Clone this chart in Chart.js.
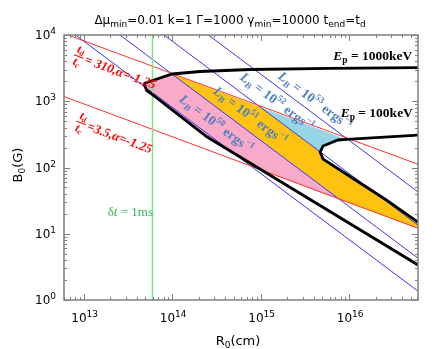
<!DOCTYPE html>
<html>
<head>
<meta charset="utf-8">
<script src="https://cdn.jsdelivr.net/npm/chart.js@4.4.0/dist/chart.umd.min.js"></script>
<style>
  html, body { margin: 0; padding: 0; background: #fff; }
</style>
</head>
<body>
<canvas id="chart" width="436" height="349"></canvas>
<script>
// axis ranges and tick labels (R0 in cm, B0 in G)
const xRange = [6e12, 6e16];
const yRange = [1, 1e4];
const xTickPowers = [13, 14, 15, 16];
const yTickPowers = [0, 1, 2, 3, 4];

// constant L_B lines, [R0, B0] end points
const lb50 = [[8.1e12, 1e4], [6e16, 1.36]];
const lb51 = [[2.57e13, 1e4], [6e16, 4.28]];
const lb52 = [[8.1e13, 1e4], [6e16, 13.5]];
const lb53 = [[2.57e14, 1e4], [6e16, 42.8]];
const lbExponents = ['50', '51', '52', '53'];

// t_d / t_c lines
const ratio310 = [[6e12, 1.05e4], [6e16, 112]];
const ratio35 = [[6e12, 1180], [6e16, 12.1]];

// delta t = 1 ms
const dt1ms = [[6e13, 1], [6e13, 1e4]];

// black boundaries
const ep1000 = [[4.78e13, 1854], [1.0e14, 2578], [2.07e14, 2812], [7.6e14, 3015], [6.08e15, 3143], [6e16, 3208]];
const lowerEdge = [[4.78e13, 1854], [5.16e13, 1453], [5.66e13, 1333], [2.49e14, 288], [6e16, 3.38]];
const ep100 = [[6e16, 309], [9.4e15, 265], [7.5e15, 260], [5.07e15, 211], [4.7e15, 171], [5.07e15, 134],
               [7.89e15, 91.7], [2.53e16, 33.5], [6e16, 15.0]];

// shaded regions, upper and lower edges
const pinkTop = [[4.78e13, 1854], [1.0e14, 2578], [7.91e15, 32.5]];
const pinkBottom = [[4.78e13, 1854], [5.16e13, 1453], [5.66e13, 1333], [2.49e14, 288], [9.3e14, 97], [7.91e15, 32.5]];
const yellowTop = [[1.0e14, 2578], [1.0e15, 813], [4.7e15, 173], [5.07e15, 134], [7.89e15, 91.7], [2.53e16, 33.5], [6e16, 15.0]];
const yellowBottom = [[1.0e14, 2578], [7.91e15, 32.5], [6e16, 12.1]];
const cyanTop = [[1.0e15, 813], [9.4e15, 265]];
const cyanBottom = [[1.0e15, 813], [4.7e15, 173], [5.07e15, 211], [7.5e15, 260], [9.4e15, 265]];

const sansFont = '"DejaVu Sans", Verdana, sans-serif';
const serifFont = '"Liberation Serif", "DejaVu Serif", serif';

function pts(arr) {
    return arr.map(p => ({ x: p[0], y: p[1] }));
}

function lineSet(arr, color, width, order) {
    return {
        data: pts(arr),
        borderColor: color,
        borderWidth: width,
        pointRadius: 0,
        fill: false,
        tension: 0,
        order: order
    };
}

function areaSet(arr, color, fillTo) {
    return {
        data: pts(arr),
        borderColor: 'rgba(0,0,0,0)',
        borderWidth: 0,
        backgroundColor: color,
        pointRadius: 0,
        fill: fillTo,
        tension: 0,
        order: 10
    };
}

// draw a row of text pieces (sub/superscripts shift the baseline)
function drawRuns(ctx, runs, x, y, align) {
    let w = 0;
    runs.forEach(r => {
        ctx.font = r.font;
        r.w = ctx.measureText(r.text).width;
        w += r.w;
    });
    let cx = align === 'center' ? x - w / 2 : align === 'right' ? x - w : x;
    runs.forEach(r => {
        ctx.font = r.font;
        ctx.fillText(r.text, cx, y + (r.dy || 0));
        cx += r.w;
    });
    return w;
}

function px(chart, p) {
    return { x: chart.scales.x.getPixelForValue(p[0]), y: chart.scales.y.getPixelForValue(p[1]) };
}

function lineAngle(chart, arr) {
    const a = px(chart, arr[0]), b = px(chart, arr[arr.length - 1]);
    return Math.atan2(b.y - a.y, b.x - a.x);
}

const overlay = {
    id: 'overlay',
    afterDatasetsDraw(chart) {
        const ctx = chart.ctx;
        const area = chart.chartArea;
        const xs = chart.scales.x, ys = chart.scales.y;
        ctx.save();

        // inward ticks on all four sides
        ctx.strokeStyle = '#808080';
        ctx.lineWidth = 1;
        ctx.beginPath();
        for (let n = 12; n <= 16; n++) {
            for (let k = 1; k <= 9; k++) {
                const v = k * Math.pow(10, n);
                if (v < xRange[0] || v > xRange[1]) continue;
                const x = Math.round(xs.getPixelForValue(v)) + 0.5;
                const len = k === 1 ? 6 : 3;
                ctx.moveTo(x, area.bottom); ctx.lineTo(x, area.bottom - len);
                ctx.moveTo(x, area.top); ctx.lineTo(x, area.top + len);
            }
        }
        for (let n = 0; n <= 4; n++) {
            for (let k = 1; k <= 9; k++) {
                const v = k * Math.pow(10, n);
                if (v < yRange[0] || v > yRange[1]) continue;
                const y = Math.round(ys.getPixelForValue(v)) + 0.5;
                const len = k === 1 ? 6 : 3;
                ctx.moveTo(area.left, y); ctx.lineTo(area.left + len, y);
                ctx.moveTo(area.right, y); ctx.lineTo(area.right - len, y);
            }
        }
        ctx.stroke();
        ctx.lineWidth = 1.5;
        ctx.strokeRect(area.left, area.top, area.right - area.left, area.bottom - area.top);

        // tick labels
        ctx.fillStyle = '#000';
        ctx.textBaseline = 'alphabetic';
        xTickPowers.forEach(p => {
            const x = xs.getPixelForValue(Math.pow(10, p));
            drawRuns(ctx, [
                { text: '10', font: '12px ' + sansFont },
                { text: String(p), font: '9px ' + sansFont, dy: -5 }
            ], x + 1, area.bottom + 22, 'center');
        });
        yTickPowers.forEach(p => {
            const y = ys.getPixelForValue(Math.pow(10, p));
            drawRuns(ctx, [
                { text: '10', font: '12px ' + sansFont },
                { text: String(p), font: '9px ' + sansFont, dy: -5 }
            ], area.left - 8, y + 4, 'right');
        });

        // title
        const big = '12px ' + sansFont, small = '9px ' + sansFont;
        drawRuns(ctx, [
            { text: 'Δμ', font: big }, { text: 'min', font: small, dy: 3 },
            { text: '=0.01 k=1 Γ=1000 γ', font: big }, { text: 'min', font: small, dy: 3 },
            { text: '=10000 t', font: big }, { text: 'end', font: small, dy: 3 },
            { text: '=t', font: big }, { text: 'd', font: small, dy: 3 }
        ], 230, 24, 'center');

        // axis titles
        drawRuns(ctx, [
            { text: 'R', font: '13px ' + sansFont }, { text: '0', font: '9px ' + sansFont, dy: 3 },
            { text: '(cm)', font: '13px ' + sansFont }
        ], 238, 345, 'center');
        ctx.save();
        ctx.translate(22, 165);
        ctx.rotate(-Math.PI / 2);
        drawRuns(ctx, [
            { text: 'B', font: '13px ' + sansFont }, { text: '0', font: '9px ' + sansFont, dy: 3 },
            { text: '(G)', font: '13px ' + sansFont }
        ], 0, 0, 'center');
        ctx.restore();

        // L_B labels along the blue lines
        const lbLines = [lb50, lb51, lb52, lb53];
        const lbLabelAt = [[3.14e14, 454], [7.6e14, 599], [1.53e15, 975], [4.12e15, 1009]];
        ctx.fillStyle = '#4f7fc0';
        lbLines.forEach((ln, i) => {
            const c = px(chart, lbLabelAt[i]);
            ctx.save();
            ctx.translate(c.x, c.y);
            ctx.rotate(lineAngle(chart, ln));
            const f = 'bold 13.5px ' + serifFont, fi = 'bold italic 13.5px ' + serifFont, fs = 'bold 9px ' + serifFont;
            drawRuns(ctx, [
                { text: 'L', font: fi }, { text: 'B', font: 'bold italic 9px ' + serifFont, dy: 3 },
                { text: ' = 10', font: f }, { text: lbExponents[i], font: fs, dy: -6 },
                { text: ' ergs', font: f }, { text: '−1', font: fs, dy: -6 }
            ], 0, 4, 'center');
            ctx.restore();
        });

        // t_d / t_c labels along the red lines
        const redLabels = [
            { line: ratio310, at: [8.83e12, 4820], text: '= 310,α=-1.25' },
            { line: ratio35, at: [9.42e12, 478], text: '=3.5,α=-1.25' }
        ];
        ctx.fillStyle = '#ff0000';
        ctx.strokeStyle = '#ff0000';
        redLabels.forEach(l => {
            const c = px(chart, l.at);
            ctx.save();
            ctx.translate(c.x, c.y);
            ctx.rotate(lineAngle(chart, l.line));
            const fi = 'bold italic 12px ' + serifFont, fs = 'bold italic 8px ' + serifFont;
            drawRuns(ctx, [{ text: 't', font: fi }, { text: 'd', font: fs, dy: 2 }], 0, -3, 'center');
            drawRuns(ctx, [{ text: 't', font: fi }, { text: 'c', font: fs, dy: 2 }], 0, 10, 'center');
            ctx.lineWidth = 1;
            ctx.beginPath();
            ctx.moveTo(-5, 0.5); ctx.lineTo(5, 0.5);
            ctx.stroke();
            drawRuns(ctx, [{ text: l.text, font: 'bold italic 13px ' + serifFont }], 7, 5, 'left');
            ctx.restore();
        });

        // E_p labels
        ctx.fillStyle = '#000';
        const epLabels = [
            { at: [5.16e16, 4195], text: ' = 1000keV' },
            { at: [5.25e16, 578], text: ' = 100keV' }
        ];
        epLabels.forEach(l => {
            const c = px(chart, l.at);
            drawRuns(ctx, [
                { text: 'E', font: 'bold italic 13.5px ' + serifFont },
                { text: 'p', font: 'bold 9.5px ' + serifFont, dy: 3 },
                { text: l.text, font: 'bold 13.5px ' + serifFont }
            ], c.x, c.y, 'right');
        });

        // delta t label
        ctx.fillStyle = '#33b35a';
        const d = px(chart, [3.37e13, 18.5]);
        drawRuns(ctx, [
            { text: 'δ', font: '13px ' + serifFont },
            { text: 't', font: 'italic 13px ' + serifFont },
            { text: ' = 1ms', font: '13px ' + serifFont }
        ], d.x, d.y, 'center');

        ctx.restore();
    }
};

new Chart(document.getElementById('chart'), {
    type: 'line',
    data: {
        datasets: [
            lineSet(ep1000, '#000', 2.8, 0),
            lineSet(lowerEdge, '#000', 2.8, 0),
            lineSet(ep100, '#000', 2.8, 0),
            lineSet(dt1ms, '#7be87b', 1.5, 1),
            lineSet(ratio310, '#ff3030', 1, 2),
            lineSet(ratio35, '#ff3030', 1, 2),
            lineSet(lb50, '#3838ee', 1, 2),
            lineSet(lb51, '#3838ee', 1, 2),
            lineSet(lb52, '#3838ee', 1, 2),
            lineSet(lb53, '#3838ee', 1, 2),
            areaSet(pinkTop, '#f8aac8', '+1'),
            areaSet(pinkBottom, 'rgba(0,0,0,0)', false),
            areaSet(yellowTop, '#ffc20e', '+1'),
            areaSet(yellowBottom, 'rgba(0,0,0,0)', false),
            areaSet(cyanTop, '#96d4e6', '+1'),
            areaSet(cyanBottom, 'rgba(0,0,0,0)', false)
        ]
    },
    options: {
        responsive: false,
        animation: false,
        devicePixelRatio: 1,
        layout: { padding: { left: 0, right: 18, top: 35, bottom: 0 } },
        plugins: {
            legend: { display: false },
            tooltip: { enabled: false }
        },
        scales: {
            x: {
                type: 'logarithmic',
                min: xRange[0],
                max: xRange[1],
                grid: { display: false },
                border: { display: false },
                ticks: { display: false },
                afterFit(scale) { scale.height = 49; }
            },
            y: {
                type: 'logarithmic',
                min: yRange[0],
                max: yRange[1],
                grid: { display: false },
                border: { display: false },
                ticks: { display: false },
                afterFit(scale) { scale.width = 64; }
            }
        }
    },
    plugins: [overlay]
});
</script>
</body>
</html>
